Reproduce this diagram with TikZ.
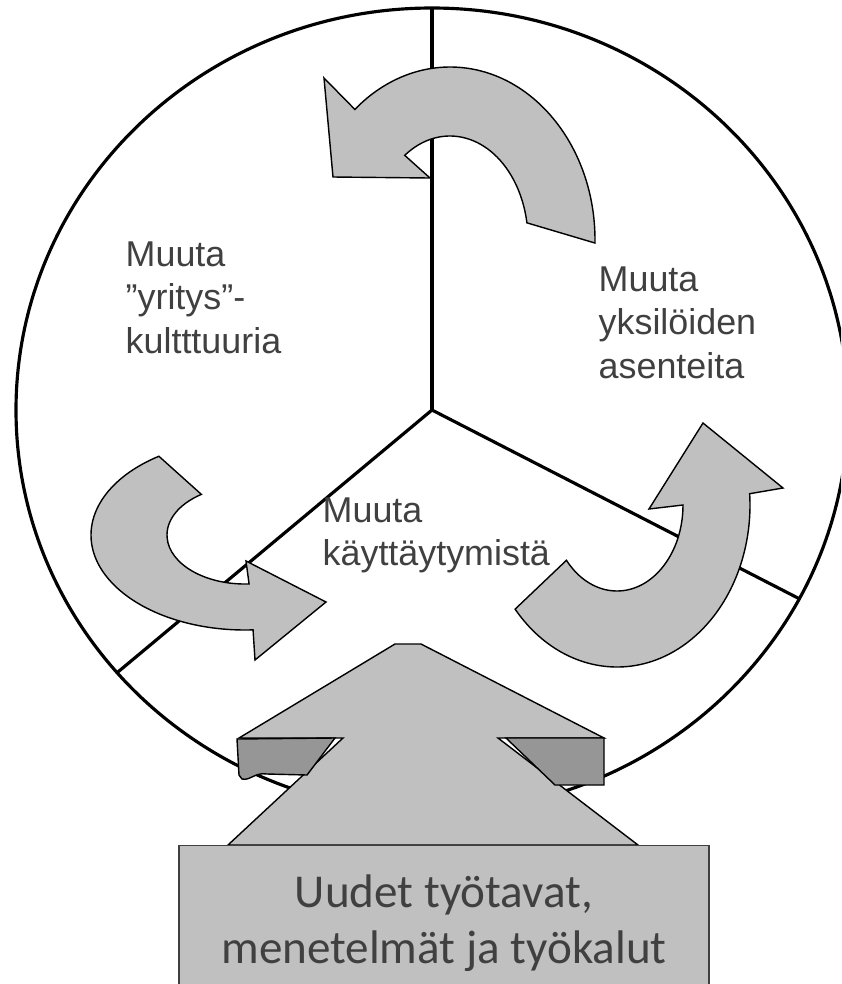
\documentclass[tikz,border=0pt]{standalone}
\usepackage{fontspec}
\setmainfont{Liberation Sans}
\newfontfamily\boxfont{Carlito}
\usetikzlibrary{calc}

\definecolor{arrowgray}{HTML}{C0C0C0}
\definecolor{blockgray}{HTML}{969696}
\definecolor{textgray}{HTML}{404040}

\begin{document}
\begin{tikzpicture}[
    x=0.01cm, y=-0.01cm,
    ring/.style={draw, line width=0.9pt},
    curved/.style={draw, line width=0.4pt, fill=arrowgray},
    block/.style={draw, line width=0.4pt, fill=blockgray},
    txt/.style={align=left, inner sep=0pt, text=textgray, font=\fontsize{10.2pt}{12.4pt}\selectfont},
    toolbox/.style={draw=textgray, line width=0.4pt, fill=arrowgray, minimum width=5.3cm, minimum height=1.55cm,
        align=center, text=textgray, font=\boxfont\fontsize{13.4pt}{15.9pt}\selectfont}
]
    \useasboundingbox (0,0) rectangle (841,984);
    \clip (0,0) rectangle (841,984);

    % --- Circle with three sectors ---
    \coordinate (ctr) at (432,410);
    \draw[ring] (ctr) ellipse [x radius=416, y radius=402];
    \coordinate (top) at ($(ctr)+(-90:416 and 402)$);
    \coordinate (lowleft) at ($(ctr)+(139.2:416 and 402)$);
    \coordinate (lowright) at ($(ctr)+(28:416 and 402)$);
    \draw[ring] (ctr) -- (top);
    \draw[ring] (ctr) -- (lowleft);
    \draw[ring] (ctr) -- (lowright);

    % --- Curved arrows between the sectors ---
    % top: from the right sector into the left one
    \coordinate (ta) at (450,240);
    \draw[curved] ($(ta)+(1:145 and 173)$) arc[start angle=1, end angle=-131, x radius=145, y radius=173]
        -- (324,78) -- (333,177) -- (430,178)
        -- ($(ta)+(-125.5:78 and 104)$) arc[start angle=-125.5, end angle=-9.5, x radius=78, y radius=104]
        -- cycle;
    % lower left: from the left sector into the bottom one
    \coordinate (la) at (245,535);
    \draw[curved] ($(la)+(236:154 and 95)$) arc[start angle=236, end angle=87, x radius=154, y radius=95]
        -- (255,660) -- (326,602) -- (246,561)
        -- ($(la)+(87:78 and 49)$) arc[start angle=87, end angle=236, x radius=78, y radius=49]
        -- cycle;
    % lower right: from the bottom sector into the right one
    \coordinate (ra) at (617,505);
    \draw[curved] ($(ra)+(140:133 and 162)$) arc[start angle=140, end angle=-4, x radius=133, y radius=162]
        -- (783,488) -- (703,423) -- (649,509)
        -- ($(ra)+(0:66 and 86)$) arc[start angle=0, end angle=140, x radius=66, y radius=86]
        -- cycle;

    % --- Big arrow coming up from the box ---
    \draw[curved] (395,644) -- (421,644) -- (604,738) -- (498,738) -- (638,845)
        -- (228,845) -- (343,738) -- (239,738) -- cycle;
    \draw[block] (237,739) -- (335,738) -- (307,775) -- (267,774)
        .. controls (255,772) and (250,781) .. (242,779) -- (239,775) -- cycle;
    \draw[block] (506,738) -- (604,738) -- (604,785) -- (555,785) -- cycle;

    \node[toolbox, anchor=north] (methods) at (444,845) {Uudet työtavat,\\menetelmät ja työkalut};

    % --- Sector labels ---
    \node[txt, anchor=north west] (culture) at (125,241) {Muuta\\”yritys”-\\kultttuuria};
    \node[txt, anchor=north west] (attitudes) at (598,266) {Muuta\\yksilöiden\\asenteita};
    \node[txt, anchor=north west] (behaviour) at (322,497) {Muuta\\käyttäytymistä};

\end{tikzpicture}
\end{document}
